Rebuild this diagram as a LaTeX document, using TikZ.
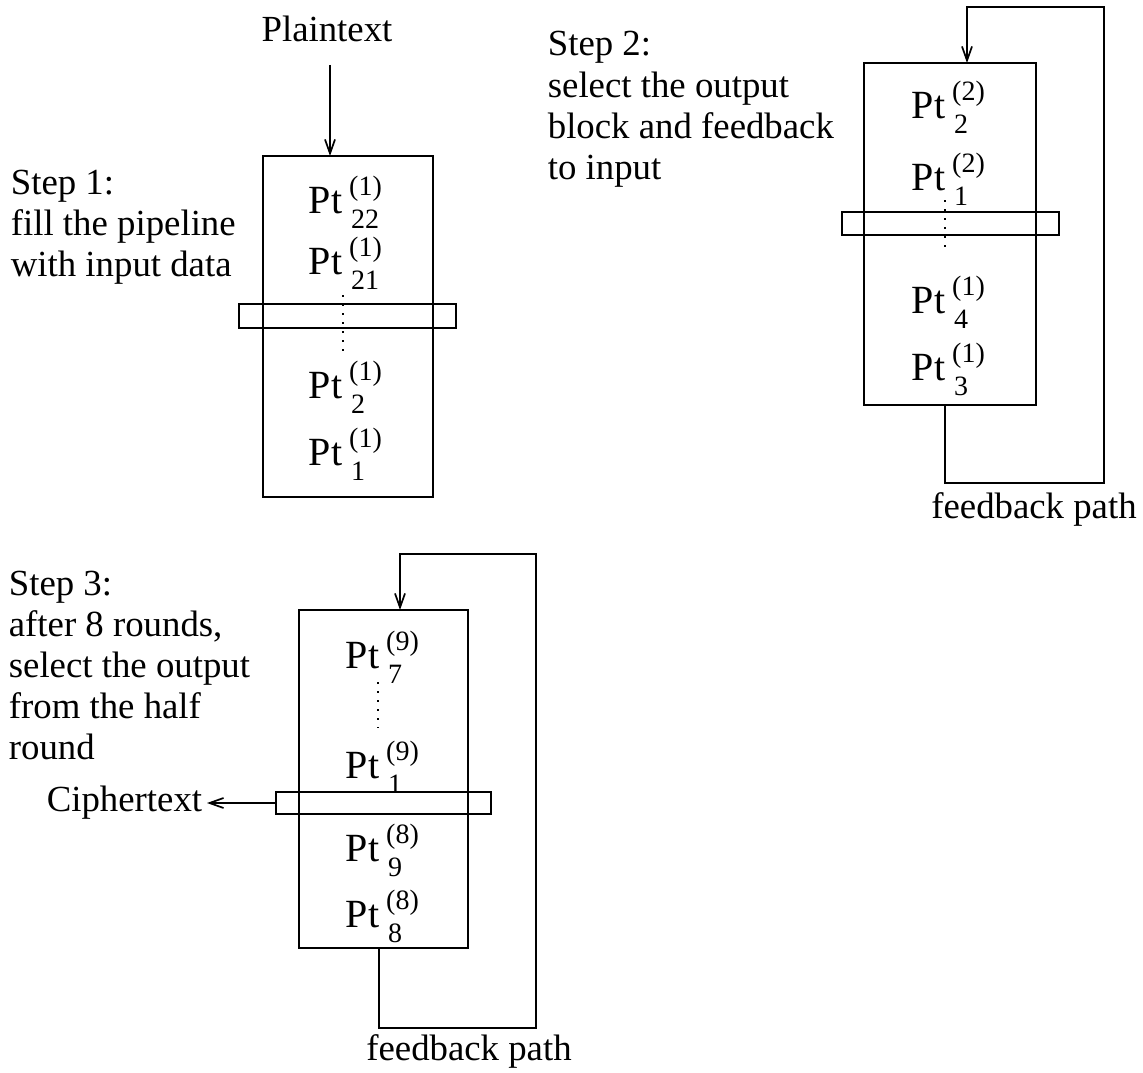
\documentclass[tikz,border=0pt]{standalone}
\usepackage{fontspec}
\setmainfont{Liberation Serif}
\usetikzlibrary{arrows.meta}

% Pt label with a raised round index and a lowered position index
\newcommand\ptlab[2]{Pt\rlap{\kern7pt\raisebox{18pt}{\fontsize{28}{28}\selectfont(#1)}}\kern9pt\raisebox{-15pt}{\fontsize{28}{28}\selectfont#2}}

\begin{document}
\begin{tikzpicture}[x=1pt,y=-1pt,
  line width=1.7pt,
  >={Straight Barb[length=14pt,width=10pt]},
  txt/.style={inner sep=0pt, font=\fontsize{36.8}{41}\selectfont},
  ptl/.style={anchor=base west, inner sep=0pt, font=\fontsize{40}{42}\selectfont},
  pipe/.style={draw, inner sep=0pt, outer sep=0pt},
  dotline/.style={line width=2pt, dash pattern=on 2pt off 7pt}
]
\useasboundingbox (0,0) rectangle (1143,1073);

% ---------- Step 1: filling the pipeline ----------
\node[txt, anchor=base west] (s1a) at (10,194) {Step 1:};
\node[txt, anchor=base west] (s1b) at (10,235) {fill the pipeline};
\node[txt, anchor=base west] (s1c) at (10,276) {with input data};

\node[txt, anchor=base] (plain) at (327,42) {Plaintext};
\coordinate (pin) at (330,65);

\node[pipe, minimum width=170pt, minimum height=341pt] (b1) at (348,326.5) {};
\node[pipe, minimum width=217pt, minimum height=24pt] (r1) at (347.5,316) {};
\draw[->] (pin) -- (pin |- b1.north);
\draw[dotline] (343,295) -- (343,352);

\node[ptl] (p1a) at (308,213) {\ptlab{1}{22}};
\node[ptl] (p1b) at (308,274) {\ptlab{1}{21}};
\node[ptl] (p1c) at (308,398) {\ptlab{1}{2}};
\node[ptl] (p1d) at (308,465) {\ptlab{1}{1}};

% ---------- Step 2: feeding the output back ----------
\node[txt, anchor=base west] (s2a) at (547,56) {Step 2:};
\node[txt, anchor=base west] (s2b) at (547,97) {select the output};
\node[txt, anchor=base west] (s2c) at (547,138) {block and feedback};
\node[txt, anchor=base west] (s2d) at (547,179) {to input};

\node[pipe, minimum width=172pt, minimum height=342pt] (b2) at (950,234) {};
\node[pipe, minimum width=217pt, minimum height=23pt] (r2) at (950.5,223.5) {};
\draw[dotline] (945,200) -- (945,250);

\node[ptl] (p2a) at (911,118) {\ptlab{2}{2}};
\node[ptl] (p2b) at (911,190) {\ptlab{2}{1}};
\node[ptl] (p2c) at (911,313) {\ptlab{1}{4}};
\node[ptl] (p2d) at (911,380) {\ptlab{1}{3}};

\coordinate (fb2a) at (1104,483);
\coordinate (fb2b) at (1104,7);
\draw[->] ([xshift=-5pt]b2.south) |- (fb2a) -- (fb2b) -| ([xshift=17pt]b2.north);
\node[txt, anchor=base] (fbl2) at (1034,518) {feedback path};

% ---------- Step 3: taking the ciphertext ----------
\node[txt, anchor=base west] (s3a) at (8,595) {Step 3:};
\node[txt, anchor=base west] (s3b) at (8,636) {after 8 rounds,};
\node[txt, anchor=base west] (s3c) at (8,677) {select the output};
\node[txt, anchor=base west] (s3d) at (8,718) {from the half};
\node[txt, anchor=base west] (s3e) at (8,759) {round};

\node[pipe, minimum width=169pt, minimum height=338pt] (b3) at (383.5,779) {};
\node[pipe, minimum width=215pt, minimum height=22pt] (r3) at (383.5,803) {};
\draw[dotline] (378,682) -- (378,728);

\node[ptl] (p3a) at (345,668) {\ptlab{9}{7}};
\node[ptl] (p3b) at (345,778) {\ptlab{9}{1}};
\node[ptl] (p3c) at (345,861) {\ptlab{8}{9}};
\node[ptl] (p3d) at (345,927) {\ptlab{8}{8}};

\node[txt, anchor=base east, inner xsep=4pt] (cipher) at (207,811) {Ciphertext};
\draw[->] (r3.west) -- (r3.west -| cipher.east);

\coordinate (fb3a) at (536,1028);
\coordinate (fb3b) at (536,554);
\draw[->] ([xshift=-4.5pt]b3.south) |- (fb3a) -- (fb3b) -| ([xshift=16.5pt]b3.north);
\node[txt, anchor=base] (fbl3) at (469,1060) {feedback path};
\end{tikzpicture}
\end{document}
